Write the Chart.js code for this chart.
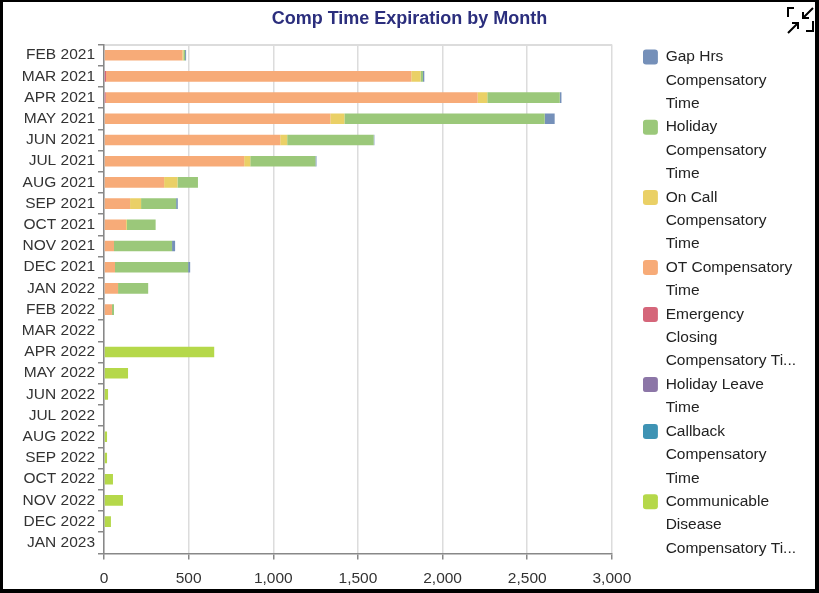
<!DOCTYPE html>
<html>
<head>
<meta charset="utf-8">
<script src="https://cdn.jsdelivr.net/npm/chart.js@4.4.1/dist/chart.umd.min.js"></script>
<style>
  html, body { margin: 0; padding: 0; background: #fff; }
  #wrap { position: relative; width: 819px; height: 593px; overflow: hidden; }
  #chart { position: absolute; left: 0; top: 0; }
  #frame {
    position: absolute; left: 0; top: 0; width: 819px; height: 593px; box-sizing: border-box;
    border-style: solid; border-color: #000; border-width: 2px 4px 4px 3px; pointer-events: none;
  }
  #shrink { position: absolute; left: 785px; top: 4px; }
</style>
</head>
<body>
<div id="wrap">
  <canvas id="chart" width="819" height="593"></canvas>
  <svg id="shrink" width="30" height="30" viewBox="0 0 30 30">
    <g fill="none" stroke="#000" stroke-width="2">
      <path d="M3 13 V4 H9"/>
      <path d="M28 4 L18 14 M18 8 V14 H24"/>
      <path d="M3 29 L13 19 M7 19 H13 V25"/>
      <path d="M21 27 H28 V17"/>
    </g>
  </svg>
  <div id="frame"></div>
</div>
<script>
const months = ['FEB 2021', 'MAR 2021', 'APR 2021', 'MAY 2021', 'JUN 2021', 'JUL 2021', 'AUG 2021', 'SEP 2021',
  'OCT 2021', 'NOV 2021', 'DEC 2021', 'JAN 2022', 'FEB 2022', 'MAR 2022', 'APR 2022', 'MAY 2022',
  'JUN 2022', 'JUL 2022', 'AUG 2022', 'SEP 2022', 'OCT 2022', 'NOV 2022', 'DEC 2022', 'JAN 2023'];

const gapHrs       = [6, 8, 10, 59, 4, 6, 0, 10, 0, 18, 12, 0, 0, 0, 0, 0, 0, 0, 0, 0, 0, 0, 0, 0];
const holidayComp  = [10, 14, 428, 1183, 511, 385, 121, 207, 170, 343, 432, 178, 12, 0, 0, 0, 0, 0, 0, 0, 0, 0, 0, 0];
const onCall       = [6, 55, 57, 83, 41, 36, 79, 65, 5, 0, 0, 0, 0, 0, 0, 0, 0, 0, 0, 0, 0, 0, 0, 0];
const otComp       = [463, 1803, 2197, 1337, 1041, 828, 355, 154, 130, 59, 65, 83, 47, 0, 0, 0, 0, 0, 0, 0, 0, 0, 0, 0];
const emergency    = [0, 12, 10, 0, 0, 0, 0, 0, 0, 0, 0, 0, 0, 0, 0, 0, 0, 0, 0, 0, 0, 0, 0, 0];
const holidayLeave = [0, 0, 0, 0, 0, 0, 0, 0, 0, 0, 0, 0, 0, 0, 0, 0, 0, 0, 0, 0, 0, 0, 0, 0];
const callback     = [0, 0, 0, 0, 0, 0, 0, 0, 0, 0, 0, 0, 0, 0, 0, 0, 0, 0, 0, 0, 0, 0, 0, 0];
const communicable = [0, 0, 0, 0, 0, 0, 0, 0, 0, 0, 0, 0, 0, 0, 651, 142, 24, 0, 18, 18, 53, 112, 41, 0];

const xTicks = [0, 500, 1000, 1500, 2000, 2500, 3000];

// stacking order: first one sits at the axis
const series = [
  { label: 'Communicable Disease Compensatory Time', lines: ['Communicable', 'Disease', 'Compensatory Ti...'], data: communicable, color: '#b5d84a' },
  { label: 'Callback Compensatory Time', lines: ['Callback', 'Compensatory', 'Time'], data: callback, color: '#3e93b4' },
  { label: 'Holiday Leave Time', lines: ['Holiday Leave', 'Time'], data: holidayLeave, color: '#8c76a7' },
  { label: 'Emergency Closing Compensatory Time', lines: ['Emergency', 'Closing', 'Compensatory Ti...'], data: emergency, color: '#d5667a' },
  { label: 'OT Compensatory Time', lines: ['OT Compensatory', 'Time'], data: otComp, color: '#f7ab78' },
  { label: 'On Call Compensatory Time', lines: ['On Call', 'Compensatory', 'Time'], data: onCall, color: '#ead066' },
  { label: 'Holiday Compensatory Time', lines: ['Holiday', 'Compensatory', 'Time'], data: holidayComp, color: '#9bc87a' },
  { label: 'Gap Hrs Compensatory Time', lines: ['Gap Hrs', 'Compensatory', 'Time'], data: gapHrs, color: '#7590b9' }
];

const FONT = "'Liberation Sans', Arial, sans-serif";
const LEGEND_GAP = 31;   // blank strip between plot and legend
const LEGEND_TAIL = 13;  // blank strip right of the legend text

// widen the legend and push its content right, away from the plot
const legendGap = {
  id: 'legendGap',
  beforeLayout(chart) {
    const lg = chart.legend;
    if (!lg || lg._gapDone) return;
    lg._gapDone = true;
    const fit = lg.fit.bind(lg);
    const draw = lg.draw.bind(lg);
    lg.fit = function () { fit(); this.width += LEGEND_GAP + LEGEND_TAIL; };
    lg.draw = function () {
      const ctx = this.ctx;
      ctx.save();
      ctx.translate(LEGEND_GAP, 0);
      draw();
      ctx.restore();
    };
  }
};

new Chart(document.getElementById('chart'), {
  type: 'bar',
  data: {
    labels: months,
    datasets: series.map(s => ({
      label: s.label,
      data: s.data,
      backgroundColor: s.color,
      borderWidth: 0,
      barPercentage: 0.5,
      categoryPercentage: 1
    }))
  },
  options: {
    indexAxis: 'y',
    responsive: false,
    animation: false,
    layout: { padding: { left: 0, right: 0, top: 0, bottom: -5 } },
    scales: {
      x: {
        stacked: true,
        min: 0,
        max: 3000,
        afterBuildTicks: scale => { scale.ticks = xTicks.map(v => ({ value: v })); },
        ticks: {
          color: '#333',
          padding: 10,
          font: { family: FONT, size: 15.5 },
          callback: v => v.toLocaleString('en-US')
        },
        grid: { color: '#dcdcdc', lineWidth: 1.5, tickColor: '#888', tickLength: 6 },
        border: { color: '#888', width: 1.5 }
      },
      x2: {
        type: 'linear',
        position: 'top',
        min: 0,
        max: 1,
        ticks: { display: false },
        grid: { display: false, drawTicks: false },
        border: { color: '#dcdcdc', width: 2 }
      },
      y: {
        stacked: true,
        afterFit: scale => { scale.width = 104; },
        ticks: {
          color: '#333',
          padding: 3,
          autoSkip: false,
          font: { family: FONT, size: 15.5 }
        },
        grid: { drawOnChartArea: false, color: '#888', tickLength: 6, lineWidth: 1.5 },
        border: { color: '#888', width: 1.5 }
      }
    },
    plugins: {
      title: {
        display: true,
        text: 'Comp Time Expiration by Month',
        color: '#2b2e7d',
        font: { family: FONT, size: 18, weight: 'bold' },
        padding: { top: 8, bottom: 15 }
      },
      legend: {
        position: 'right',
        align: 'start',
        reverse: true,
        title: { display: true, text: ' ', font: { size: 1 }, padding: { top: 45, bottom: 3 } },
        labels: {
          color: '#222',
          boxWidth: 15,
          boxHeight: 15,
          padding: 0,
          useBorderRadius: true,
          borderRadius: 3,
          font: { family: FONT, size: 15.5, lineHeight: 1.51 },
          generateLabels(chart) {
            const items = Chart.defaults.plugins.legend.labels.generateLabels(chart);
            items.forEach(it => {
              it.text = series[it.datasetIndex].lines;
              it.lineWidth = 0;
            });
            return items;
          }
        }
      },
      tooltip: { enabled: false }
    }
  },
  plugins: [legendGap]
});
</script>
</body>
</html>
